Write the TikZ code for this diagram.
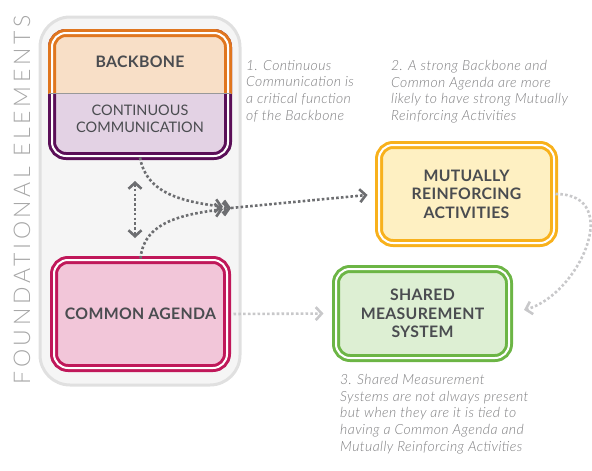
\documentclass[tikz,border=0pt]{standalone}
\usepackage{fontspec}
\setmainfont{Lato}
\newfontfamily\latolight[LetterSpace=16]{Lato Light}
\newfontfamily\latonote[LetterSpace=3]{Lato Light}
\newfontfamily\latolabel[LetterSpace=2]{Lato}
\usetikzlibrary{arrows.meta}

\definecolor{txtdark}{HTML}{4A4C50}
\definecolor{notegray}{HTML}{7E7E80}
\definecolor{arrdark}{HTML}{6D6E71}
\definecolor{arrlight}{HTML}{C8C8CA}
\definecolor{bbline}{HTML}{E0761F}
\definecolor{bbfill}{HTML}{F8DFC7}
\definecolor{ccline}{HTML}{5B0F58}
\definecolor{ccfill}{HTML}{E3D2E4}
\definecolor{caline}{HTML}{C0185A}
\definecolor{cafill}{HTML}{F2C6D9}
\definecolor{mrline}{HTML}{F8B11C}
\definecolor{mrfill}{HTML}{FEF0C2}
\definecolor{smline}{HTML}{6CB545}
\definecolor{smfill}{HTML}{DDEFD3}

\tikzset{
  elem/.style={draw=#1, line width=3pt, double=white, double distance=2pt,
    rounded corners=14pt, inner sep=0pt},
  label/.style={text=txtdark, font=\fontsize{15.8}{18.5}\selectfont\latolabel\bfseries, align=center},
  note/.style={text=notegray, font=\fontsize{14}{16.7}\selectfont\latonote\itshape,
    align=left, anchor=north west, inner sep=0pt},
  darkdots/.style={draw=arrdark, line width=2.6pt, dash pattern=on 2.6pt off 2.2pt},
  lightdots/.style={draw=arrlight, line width=2.6pt, dash pattern=on 2.6pt off 2.2pt},
  chev/.tip={Straight Barb[length=6pt, width=13pt, line width=2.6pt]}
}

\begin{document}
\begin{tikzpicture}[x=1pt, y=-1pt]
    \useasboundingbox (0,0) rectangle (592,471);

    % foundational block
    \node[draw=black!12, line width=3pt, fill=black!4, rounded corners=30pt,
      minimum width=200pt, minimum height=368pt] (found) at (140,201) {};
    \node[rotate=90, text=black!35, font=\fontsize{23}{26}\selectfont\latolight] (foundtext) at (22,200)
      {FOUNDATIONAL ELEMENTS};

    % backbone and communication
    \node[elem=ccline, fill=ccfill, minimum width=176pt, minimum height=123pt] (comm) at (140,94.5) {};
    \begin{scope}
        \clip (0,0) rectangle (592,93);
        \node[elem=bbline, fill=bbfill, minimum width=176pt, minimum height=123pt] (backbone) at (140,94.5) {};
    \end{scope}
    \draw[black!40, line width=0.6pt] (49,93) -- (231,93);
    \node[label] (bbtext) at (140,62) {BACKBONE};
    \node[label, font=\fontsize{14.5}{16.5}\selectfont] (commtext) at (140,119) {CONTINUOUS\\COMMUNICATION};

    \node[elem=caline, fill=cafill, minimum width=173pt, minimum height=108pt, label] (agenda) at (140.5,314) {COMMON AGENDA};
    \node[elem=mrline, fill=mrfill, minimum width=175pt, minimum height=98pt, label] (mutual) at (466.5,194) {MUTUALLY\\REINFORCING\\ACTIVITIES};
    \node[elem=smline, fill=smfill, minimum width=173pt, minimum height=89pt, label] (shared) at (422.5,313.5) {SHARED\\MEASUREMENT\\SYSTEM};

    % notes
    \node[note] (note1) at (246,60) {1. Continuous\\Communication is\\a critical function\\of the Backbone};
    \node[note] (note2) at (391,60) {2. A strong Backbone and\\Common Agenda are more\\likely to have strong Mutually\\Reinforcing Activities};
    \node[note] (note3) at (340,374) {3. Shared Measurement\\Systems are not always present\\but when they are it is tied to\\having a Common Agenda and\\Mutually Reinforcing Activities};

    % connectors
    \coordinate (merge) at (231,208);
    \coordinate (vtop) at (135,181);
    \coordinate (vbot) at (135,238);
    \draw[darkdots, -{chev[sep=-1pt]chev}] (comm.south) to[out=-80, in=172] (merge);
    \draw[darkdots, -{chev[sep=-1pt]chev}] (agenda.north) to[out=85, in=188] (merge);
    \draw[darkdots, {chev}-{chev}] (vtop) -- (vbot);
    \draw[darkdots, -{chev}, shorten >=10pt] (merge) -- (mutual.west);
    \draw[lightdots, -{chev}, shorten <=5pt, shorten >=11pt] (agenda.east) -- (shared.west);
    \draw[lightdots, -{chev}, shorten >=14pt] (mutual.east) to[out=0, in=15, looseness=1.4] (shared.east);
\end{tikzpicture}
\end{document}
